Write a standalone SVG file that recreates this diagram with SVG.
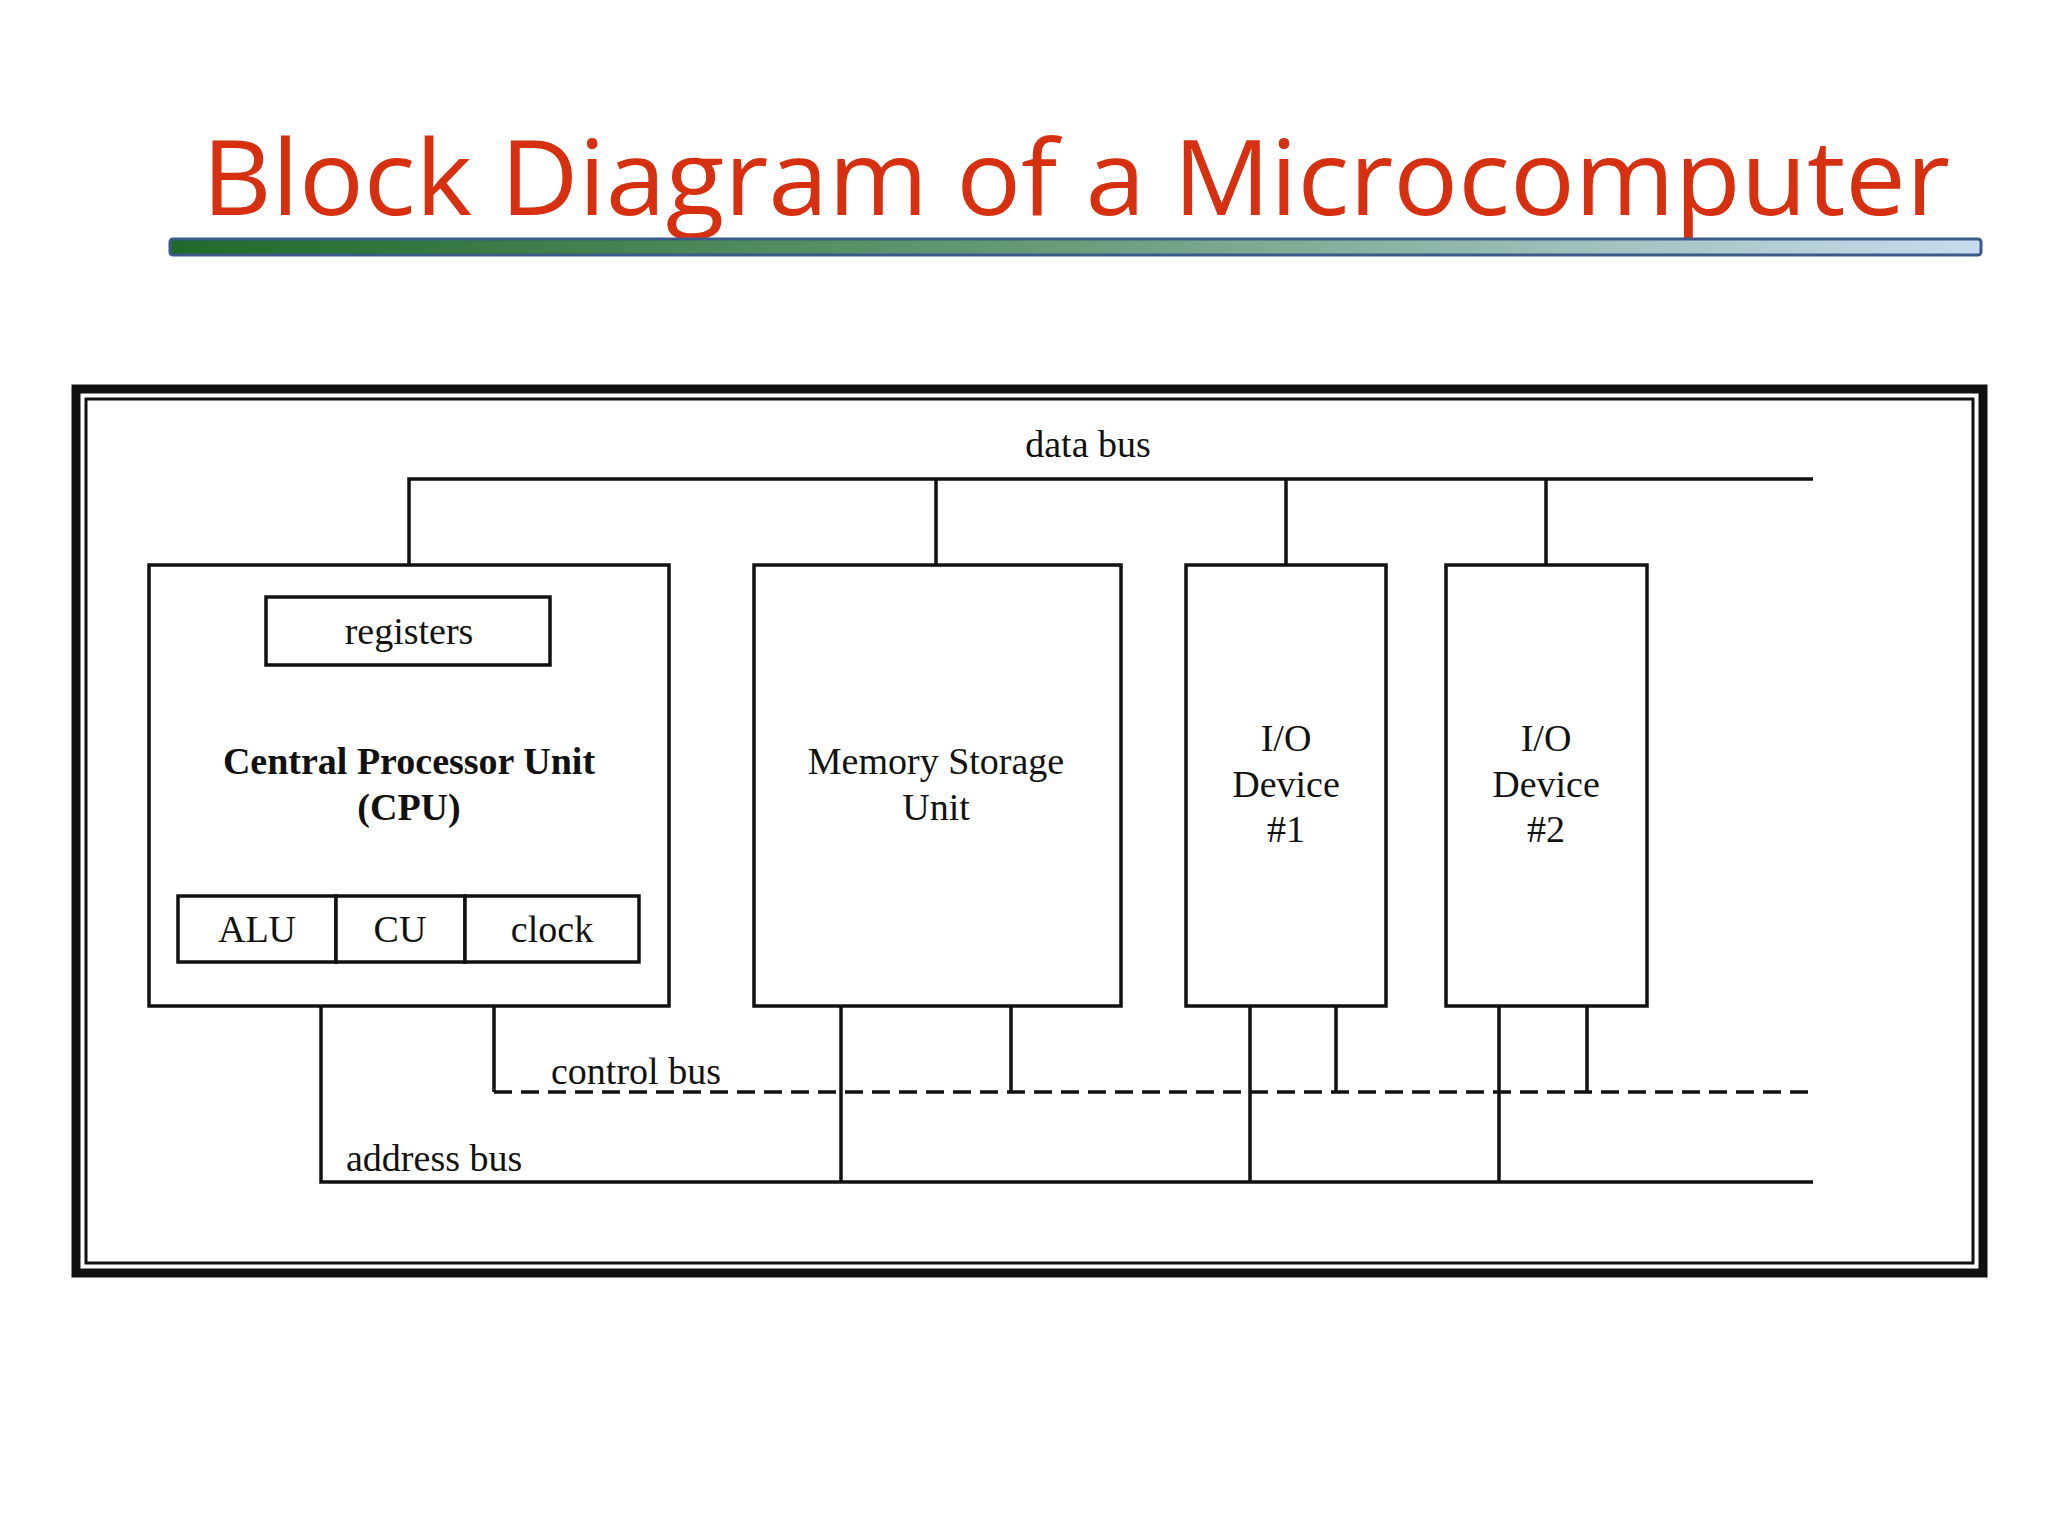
<svg xmlns="http://www.w3.org/2000/svg" width="2048" height="1536" viewBox="0 0 2048 1536">
<defs>
<linearGradient id="bar" x1="0" x2="1" y1="0" y2="0">
<stop offset="0" stop-color="#1f6a2a"/><stop offset="0.5" stop-color="#6a9e7a"/><stop offset="1" stop-color="#c8dcef"/>
</linearGradient>
<style>
.ln{stroke:#111;stroke-width:3.5;fill:none}
.bx{stroke:#111;stroke-width:3.5;fill:#fff}
.dash{stroke:#111;stroke-width:3.5;fill:none;stroke-dasharray:18 9}
.t{font-family:"Liberation Serif","Times New Roman",serif;font-size:38px;fill:#111;text-anchor:middle}
.s{text-anchor:start}
.b{font-weight:bold}
</style>
</defs>
<rect width="2048" height="1536" fill="#fff"/>
<text x="202" y="215" font-family="'Open Sans','DejaVu Sans',sans-serif" font-size="104" fill="#d63010" textLength="1748" lengthAdjust="spacingAndGlyphs">Block Diagram of a Microcomputer</text>
<rect x="170" y="239" width="1811" height="16" rx="3" fill="url(#bar)" stroke="#3a5a8a" stroke-width="3"/>
<rect x="76" y="389" width="1907" height="884" fill="none" stroke="#111" stroke-width="9"/>
<rect x="86" y="399" width="1887" height="864" fill="none" stroke="#111" stroke-width="3"/>
<g id="connectors">
<path class="ln" d="M409 565V479H1813M936 479V565M1286 479V565M1546 479V565"/>
<path class="ln" d="M321 1006V1182H1813M841 1006V1182M1250 1006V1182M1499 1006V1182"/>
<path class="ln" d="M494 1006V1092M1011 1006V1092M1336 1006V1092M1587 1006V1092"/>
<path class="dash" d="M494 1092H1813"/>
<text class="t" x="1088" y="457">data bus</text>
<text class="t s" x="551" y="1084">control bus</text>
<text class="t s" x="346" y="1171">address bus</text>
</g>
<g id="cpu">
<rect class="bx" x="149" y="565" width="520" height="441"/>
<text class="t b" x="409" y="774">Central Processor Unit</text>
<text class="t b" x="409" y="820">(CPU)</text>
</g>
<g id="registers"><rect class="bx" x="266" y="597" width="284" height="68"/><text class="t" x="409" y="644">registers</text></g>
<g id="alu"><rect class="bx" x="178" y="896" width="158" height="66"/><text class="t" x="257" y="942">ALU</text></g>
<g id="cu"><rect class="bx" x="336" y="896" width="129" height="66"/><text class="t" x="400" y="942">CU</text></g>
<g id="clock"><rect class="bx" x="465" y="896" width="174" height="66"/><text class="t" x="552" y="942">clock</text></g>
<g id="memory"><rect class="bx" x="754" y="565" width="367" height="441"/><text class="t" x="936" y="774">Memory Storage</text><text class="t" x="936" y="820">Unit</text></g>
<g id="io1"><rect class="bx" x="1186" y="565" width="200" height="441"/><text class="t" x="1286" y="751">I/O</text><text class="t" x="1286" y="797">Device</text><text class="t" x="1286" y="842">#1</text></g>
<g id="io2"><rect class="bx" x="1446" y="565" width="201" height="441"/><text class="t" x="1546" y="751">I/O</text><text class="t" x="1546" y="797">Device</text><text class="t" x="1546" y="842">#2</text></g>
</svg>
